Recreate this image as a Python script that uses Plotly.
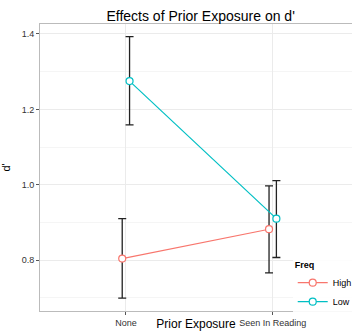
import plotly.graph_objects as go

categories = ["None", "Seen In Reading"]
high_mean = [0.804, 0.882]
high_lo = [0.699, 0.766]
high_hi = [0.910, 0.997]
low_mean = [1.275, 0.910]
low_lo = [1.159, 0.807]
low_hi = [1.393, 1.011]

series = [
    ("High", high_mean, high_lo, high_hi, "#F8766D", -0.025),
    ("Low", low_mean, low_lo, low_hi, "#00BFC4", 0.025),
]

fig = go.Figure()
for name, m, lo, hi, col, dx in series:
    xs = [i + 1 + dx for i in range(len(categories))]
    fig.add_trace(go.Scatter(
        x=xs, y=m, mode="lines+markers", name=name,
        line=dict(color=col, width=1.2),
        marker=dict(symbol="circle", size=7, color="white", line=dict(color=col, width=1.2)),
        error_y=dict(type="data", symmetric=False,
                     array=[h - v for h, v in zip(hi, m)],
                     arrayminus=[v - l for l, v in zip(lo, m)],
                     color="#222222", thickness=1.3, width=4),
    ))

fig.update_layout(
    width=352, height=331,
    margin=dict(l=40, r=0, t=24, b=20, autoexpand=False),
    paper_bgcolor="white", plot_bgcolor="white",
    font=dict(family="Liberation Sans, Arial", color="#333333"),
    title=dict(text="Effects of Prior Exposure on d'", x=0.57, xanchor="center", y=0.952, yanchor="middle",
               font=dict(size=14, color="black")),
    showlegend=True,
    legend=dict(title=dict(text="<b>Freq</b>", font=dict(size=9, color="black")),
                x=0.81, xanchor="left", y=0.19, yanchor="top",
                bgcolor="rgba(255,255,255,0.9)", font=dict(size=9, color="black"),
                tracegroupgap=0, itemwidth=30),
)
fig.update_xaxes(
    range=[0.415, 2.54], tickvals=[1, 2], ticktext=categories,
    showgrid=True, gridcolor="#EBEBEB", gridwidth=1,
    showline=True, linecolor="#BBBBBB", mirror=True, linewidth=1,
    ticks="outside", ticklen=3, tickcolor="#555555",
    tickfont=dict(size=9, color="#333333"),
    title=dict(text="Prior Exposure", font=dict(size=12, color="black"), standoff=6),
    zeroline=False,
)
fig.update_yaxes(
    range=[0.665, 1.4265], tickvals=[0.8, 1.0, 1.2, 1.4], ticktext=["0.8", "1.0", "1.2", "1.4"],
    showgrid=True, gridcolor="#EBEBEB", gridwidth=1,
    minor=dict(tickvals=[0.7, 0.9, 1.1, 1.3], showgrid=True, gridcolor="#F5F5F5", gridwidth=0.5),
    showline=True, linecolor="#BBBBBB", mirror=True, linewidth=1,
    ticks="outside", ticklen=3, tickcolor="#555555",
    tickfont=dict(size=9, color="#333333"),
    title=dict(text="d'", font=dict(size=11, color="black"), standoff=12),
    zeroline=False,
)
fig.write_html("out.html", config={"displayModeBar": False},
               post_script="document.body.style.margin='0';document.body.style.overflow='hidden';")
